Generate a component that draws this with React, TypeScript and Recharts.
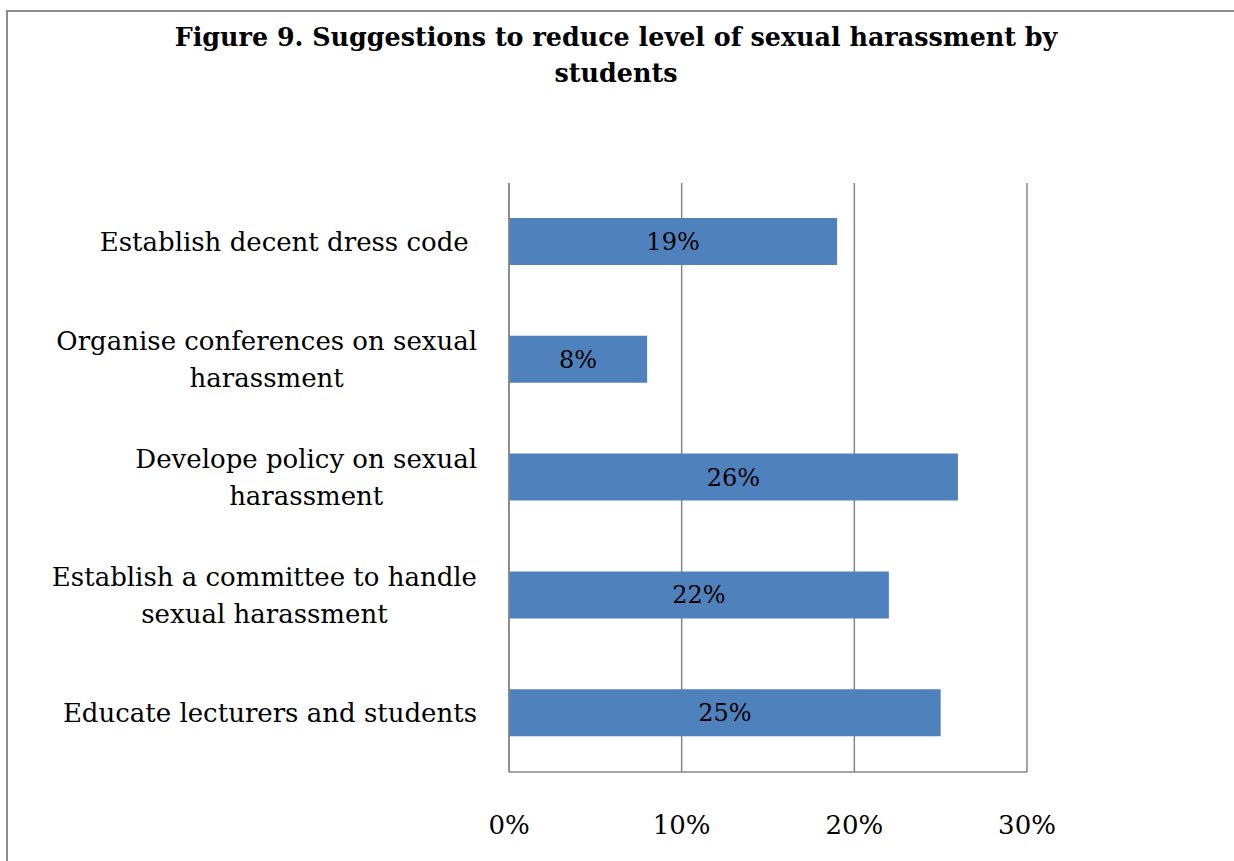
import React from 'react';
import { BarChart, Bar, XAxis, YAxis, CartesianGrid, LabelList } from 'recharts';

const titleLines = [
  'Figure 9. Suggestions to reduce level of sexual harassment by',
  'students',
];
const categories = [
  'Establish decent dress code ',
  'Organise conferences on sexual\nharassment',
  'Develope policy on sexual\nharassment',
  'Establish a committee to handle\nsexual harassment',
  'Educate lecturers and students',
];
const values = [19, 8, 26, 22, 25];
const xTicks = [0, 10, 20, 30];

const data = categories.map((c, i) => ({ name: c, value: values[i] }));

const FONT = '"DejaVu Serif", serif';
const SIZE = 26;
const GRID = '#868686';
const BAR = '#4F81BD';

let ctx: CanvasRenderingContext2D | null = null;
function measure(t: string, font: string): number {
  if (!ctx) {
    const c = document.createElement('canvas');
    ctx = c.getContext('2d');
  }
  if (!ctx) return t.length * 13;
  ctx.font = font;
  return ctx.measureText(t).width;
}

const YTick = (props: any) => {
  const { x, y, payload } = props;
  const lines = String(payload.value).split('\n');
  const font = `${SIZE}px ${FONT}`;
  const widths = lines.map((l) => measure(l, font));
  const maxW = Math.max(...widths);
  const right = x - 30;
  const cx = right - maxW / 2;
  const lh = 37;
  const startY = y - ((lines.length - 1) * lh) / 2;
  return (
    <text
      textAnchor="middle"
      fontFamily={FONT}
      fontSize={SIZE}
      fill="#000"
      style={{ whiteSpace: 'pre' }}
    >
      {lines.map((l, i) => (
        <tspan key={i} x={cx} y={startY + i * lh} dominantBaseline="central">
          {l}
        </tspan>
      ))}
    </text>
  );
};

const XTick = (props: any) => {
  const { x, y, payload } = props;
  return (
    <text
      x={x}
      y={y + 51}
      textAnchor="middle"
      dominantBaseline="central"
      fontFamily={FONT}
      fontSize={SIZE}
      fill="#000"
    >
      {`${payload.value}%`}
    </text>
  );
};

export default function App() {
  return (
    <div
      style={{
        position: 'absolute',
        left: 0,
        top: 0,
        width: 1234,
        height: 861,
        overflow: 'hidden',
        background: '#fff',
      }}
    >
      <div
        style={{
          position: 'absolute',
          left: 6,
          top: 10,
          width: 1260,
          height: 900,
          border: '2px solid #8c8c8c',
          boxSizing: 'border-box',
        }}
      />
      <div
        style={{
          position: 'absolute',
          left: 0,
          top: 19,
          width: 1232,
          textAlign: 'center',
          fontFamily: FONT,
          fontWeight: 'bold',
          fontSize: 25.4,
          lineHeight: '36px',
        }}
      >
        {titleLines.map((t, i) => (
          <div key={i}>{t}</div>
        ))}
      </div>
      <div style={{ position: 'absolute', left: 0, top: 0 }}>
        <BarChart
          width={1234}
          height={861}
          data={data}
          layout="vertical"
          margin={{ top: 183, right: 207, bottom: 0, left: 0 }}
        >
          <CartesianGrid horizontal={false} vertical={true} stroke={GRID} strokeWidth={1.5} />
          <XAxis
            type="number"
            domain={[0, 30]}
            ticks={xTicks}
            interval={0}
            axisLine={{ stroke: GRID, strokeWidth: 1.5 }}
            tickLine={false}
            tickSize={0}
            tick={<XTick />}
            height={89}
          />
          <YAxis
            type="category"
            dataKey="name"
            width={509}
            axisLine={{ stroke: GRID, strokeWidth: 1.5 }}
            tickLine={false}
            tickSize={0}
            interval={0}
            tick={<YTick />}
          />
          <Bar dataKey="value" fill={BAR} barSize={47} isAnimationActive={false}>
            <LabelList
              dataKey="value"
              position="center"
              formatter={(v: any) => `${v}%`}
              fill="#000"
              fontFamily={FONT}
              fontSize={24}
            />
          </Bar>
        </BarChart>
      </div>
    </div>
  );
}
